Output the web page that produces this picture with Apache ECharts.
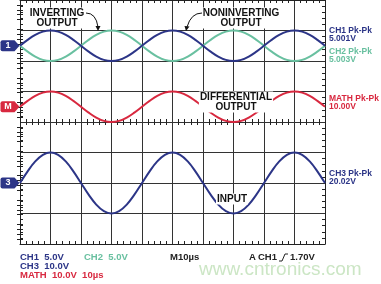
<!DOCTYPE html>
<html>
<head>
<meta charset="utf-8">
<script src="https://cdn.jsdelivr.net/npm/echarts@6/dist/echarts.min.js"></script>
<style>
  html, body { margin: 0; padding: 0; background: #fff; }
  #scope { width: 381px; height: 284px; }
</style>
</head>
<body>
<div id="scope"></div>
<script>
// 时间轴 (µs)，每 2.5µs 读一个点
var timeUs = [0, 2.5, 5, 7.5, 10, 12.5, 15, 17.5, 20, 22.5, 25, 27.5, 30, 32.5, 35, 37.5,
    40, 42.5, 45, 47.5, 50, 52.5, 55, 57.5, 60, 62.5, 65, 67.5, 70, 72.5, 75, 77.5,
    80, 82.5, 85, 87.5, 90, 92.5, 95, 97.5, 100];
// 各通道电压 (V)
var ch1Volts = [0, 0.96, 1.77, 2.31, 2.5, 2.31, 1.77, 0.96, 0, -0.96, -1.77, -2.31, -2.5, -2.31, -1.77, -0.96,
    0, 0.96, 1.77, 2.31, 2.5, 2.31, 1.77, 0.96, 0, -0.96, -1.77, -2.31, -2.5, -2.31, -1.77, -0.96,
    0, 0.96, 1.77, 2.31, 2.5, 2.31, 1.77, 0.96, 0];
var ch2Volts = [0, -0.96, -1.77, -2.31, -2.5, -2.31, -1.77, -0.96, 0, 0.96, 1.77, 2.31, 2.5, 2.31, 1.77, 0.96,
    0, -0.96, -1.77, -2.31, -2.5, -2.31, -1.77, -0.96, 0, 0.96, 1.77, 2.31, 2.5, 2.31, 1.77, 0.96,
    0, -0.96, -1.77, -2.31, -2.5, -2.31, -1.77, -0.96, 0];
var mathVolts = [0, 1.91, 3.54, 4.62, 5, 4.62, 3.54, 1.91, 0, -1.91, -3.54, -4.62, -5, -4.62, -3.54, -1.91,
    0, 1.91, 3.54, 4.62, 5, 4.62, 3.54, 1.91, 0, -1.91, -3.54, -4.62, -5, -4.62, -3.54, -1.91,
    0, 1.91, 3.54, 4.62, 5, 4.62, 3.54, 1.91, 0];
var ch3Volts = [0, 3.83, 7.07, 9.24, 10, 9.24, 7.07, 3.83, 0, -3.83, -7.07, -9.24, -10, -9.24, -7.07, -3.83,
    0, 3.83, 7.07, 9.24, 10, 9.24, 7.07, 3.83, 0, -3.83, -7.07, -9.24, -10, -9.24, -7.07, -3.83,
    0, 3.83, 7.07, 9.24, 10, 9.24, 7.07, 3.83, 0];
// 每格电压 (V/div)
var voltsPerDiv = { ch1: 5, ch2: 5, math: 10, ch3: 10 };
// 右侧测量读数
var measureLabels = ['CH1 Pk-Pk', 'CH2 Pk-Pk', 'MATH Pk-Pk', 'CH3 Pk-Pk'];
var measureValues = ['5.001V', '5.003V', '10.00V', '20.02V'];

// 通道在屏幕上的位置 (div)
var ch1Pos = 2.5, mathPos = 0.5, ch3Pos = -2;

var NAVY = '#2c3587';
var GREEN = '#69c0a0';
var RED = '#d8283f';
var FONT = '"Liberation Sans", Arial, sans-serif';

function toDiv(volts, scale, pos) {
    return timeUs.map(function (t, i) { return [t, volts[i] / scale + pos]; });
}

function tagPoint(pos, txt, color) {
    return {
        symbol: 'path://M2,0 L14,0 L19,5.5 L14,11 L2,11 Q0,11 0,9 L0,2 Q0,0 2,0 Z',
        symbolSize: [19, 11],
        symbolOffset: [-10, 0],
        itemStyle: { color: color },
        label: { show: true, color: '#fff', fontSize: 9, fontWeight: 'bold', fontFamily: FONT, offset: [-2, 0] },
        data: [{ coord: [0, pos], value: txt }]
    };
}

function waveSeries(name, data, color, mark) {
    var s = {
        name: name,
        type: 'line',
        data: data,
        smooth: 0.4,
        symbol: 'none',
        lineStyle: { color: color, width: 2 },
        z: 5
    };
    if (mark) s.markPoint = mark;
    return s;
}

var gridRect = { left: 20, right: 56, top: 0, bottom: 40 };
var tickCol = '#222';

function borderX(pos, grid, split) {
    return {
        type: 'value', gridIndex: grid, position: pos, min: 0, max: 100, interval: 10,
        axisLine: { show: true, onZero: false, lineStyle: { color: tickCol, width: 1 } },
        axisTick: { show: false, inside: true, length: 3 },
        minorTick: { show: true, splitNumber: 5, length: 3, lineStyle: { color: tickCol } },
        axisLabel: { show: false },
        splitLine: { show: split, lineStyle: { color: '#333', width: 1 } }
    };
}
function borderY(pos, grid, split) {
    return {
        type: 'value', gridIndex: grid, position: pos, min: -4, max: 4, interval: 1,
        axisLine: { show: true, onZero: false, lineStyle: { color: tickCol, width: 1 } },
        axisTick: { show: false, inside: true, length: 3 },
        minorTick: { show: true, splitNumber: 5, length: 3, lineStyle: { color: tickCol } },
        axisLabel: { show: false },
        splitLine: { show: split, lineStyle: { color: '#333', width: 1 } }
    };
}
// 中心十字线上的刻度，两边各一次
function centerX(grid, inside) {
    return {
        type: 'value', gridIndex: grid, min: 0, max: 100, interval: 10,
        axisLine: { show: false, onZero: true },
        axisTick: { show: false, inside: inside, length: 3 },
        minorTick: { show: true, splitNumber: 5, length: 3, lineStyle: { color: tickCol } },
        axisLabel: { show: false }, splitLine: { show: false }
    };
}
function centerY(grid, inside) {
    return {
        type: 'value', gridIndex: grid, min: -50, max: 50, interval: 10,
        axisLine: { show: false, onZero: true },
        axisTick: { show: false, inside: inside, length: 3 },
        minorTick: { show: true, splitNumber: 5, length: 3, lineStyle: { color: tickCol } },
        axisLabel: { show: false }, splitLine: { show: false }
    };
}

var chart = echarts.init(document.getElementById('scope'), null, { renderer: 'canvas' });

var txt = function (x, y, s, color, size, extra) {
    var st = { text: s, x: x, y: y, fill: color, font: 'bold ' + size + 'px ' + FONT, verticalAlign: 'middle' };
    if (extra) for (var k in extra) st[k] = extra[k];
    return { type: 'text', z: 20, style: st };
};

var graphics = [];
// 右侧读数
var measureY = [31, 52, 99, 174];
var measureCol = [NAVY, GREEN, RED, NAVY];
measureLabels.forEach(function (m, i) {
    graphics.push(txt(329, measureY[i], m, measureCol[i], 8.5));
    graphics.push(txt(329, measureY[i] + 7.5, measureValues[i], measureCol[i], 8.5));
});
// 底部设置
graphics.push(txt(20, 257, 'CH1  5.0V', NAVY, 9.5));
graphics.push(txt(84, 257, 'CH2  5.0V', GREEN, 9.5));
graphics.push(txt(170, 257, 'M10\u00b5s', '#222', 9.5));
graphics.push(txt(20, 266, 'CH3  10.0V', NAVY, 9.5));
graphics.push(txt(20, 275.5, 'MATH  10.0V  10\u00b5s', RED, 9.5));
graphics.push(txt(249, 257, 'A', '#222', 9.5));
graphics.push(txt(258, 257, 'CH1', '#222', 9.5));
graphics.push(txt(290, 257, '1.70V', '#222', 9.5));
graphics.push({ type: 'polyline', z: 20, shape: { points: [[279, 261], [282, 261], [285, 254], [288, 254]] }, style: { stroke: '#222', lineWidth: 1, fill: null } });
// 水印
graphics.push({ type: 'text', z: 30, style: { text: 'www.cntronics.com', x: 199, y: 270, fill: '#cce6c5', font: '19px ' + FONT, verticalAlign: 'middle' } });
// 注释
var note = { align: 'center', backgroundColor: '#fff', padding: [1, 1, 0, 1], lineHeight: 10 };
graphics.push(txt(57, 18, 'INVERTING\nOUTPUT', '#111', 10, note));
graphics.push(txt(241, 18, 'NONINVERTING\nOUTPUT', '#111', 10, note));
graphics.push(txt(236, 102, 'DIFFERENTIAL\nOUTPUT', '#111', 10, note));
graphics.push(txt(232, 199, 'INPUT', '#111', 10, note));
// 箭头
graphics.push({ type: 'bezierCurve', z: 21, shape: { x1: 86, y1: 13, x2: 98, y2: 27, cpx1: 96, cpy1: 13 }, style: { stroke: '#111', lineWidth: 1, fill: null } });
graphics.push({ type: 'polygon', z: 21, shape: { points: [[95.5, 26], [100.5, 26], [98, 31]] }, style: { fill: '#111' } });
graphics.push({ type: 'bezierCurve', z: 21, shape: { x1: 202, y1: 13, x2: 187, y2: 27, cpx1: 191, cpy1: 13 }, style: { stroke: '#111', lineWidth: 1, fill: null } });
graphics.push({ type: 'polygon', z: 21, shape: { points: [[184.5, 26], [189.5, 26.5], [186, 31]] }, style: { fill: '#111' } });

var option = {
    animation: false,
    backgroundColor: '#fff',
    grid: [gridRect, gridRect, gridRect],
    xAxis: [borderX('bottom', 0, true), borderX('top', 0, false), centerX(1, true), centerX(2, false)],
    yAxis: [borderY('left', 0, true), borderY('right', 0, false), centerY(1, true), centerY(2, false)],
    series: [
        waveSeries('CH2', toDiv(ch2Volts, voltsPerDiv.ch2, ch1Pos), GREEN),
        waveSeries('CH1', toDiv(ch1Volts, voltsPerDiv.ch1, ch1Pos), NAVY, tagPoint(ch1Pos, '1', NAVY)),
        waveSeries('MATH', toDiv(mathVolts, voltsPerDiv.math, mathPos), RED, tagPoint(mathPos, 'M', RED)),
        waveSeries('CH3', toDiv(ch3Volts, voltsPerDiv.ch3, ch3Pos), NAVY, tagPoint(ch3Pos, '3', NAVY))
    ],
    graphic: graphics
};
chart.setOption(option);
</script>
</body>
</html>
